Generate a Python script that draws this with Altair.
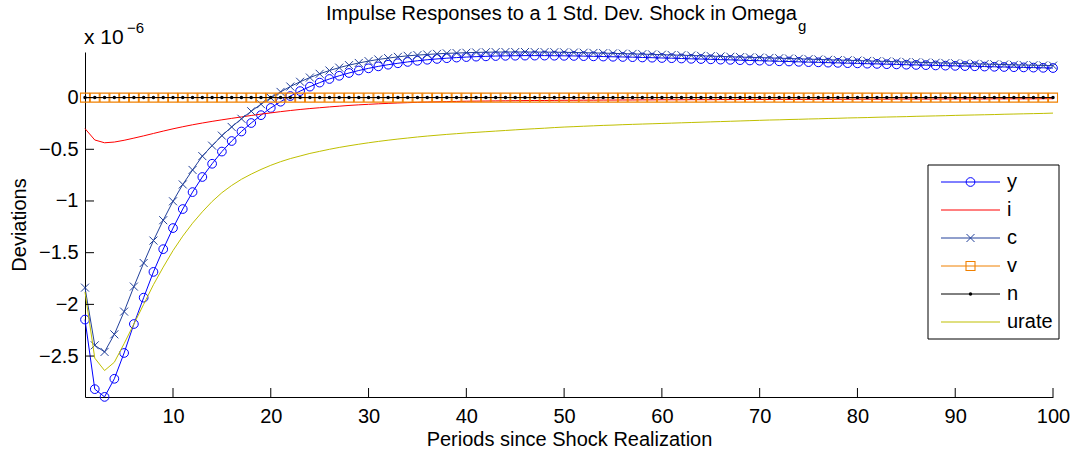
import altair as alt
import pandas as pd

FONT = "Liberation Sans"

periods = list(range(1, 101))

y_vals = [
    -2.147, -2.820, -2.895, -2.720, -2.470, -2.190, -1.935, -1.686, -1.466, -1.262,
    -1.078, -0.914, -0.768, -0.640, -0.522, -0.420, -0.328, -0.246, -0.170, -0.100,
    -0.040, 0.015, 0.063, 0.106, 0.145, 0.180, 0.211, 0.238, 0.262, 0.283,
    0.302, 0.318, 0.332, 0.345, 0.356, 0.366, 0.374, 0.381, 0.387, 0.392,
    0.396, 0.399, 0.402, 0.404, 0.405, 0.406, 0.406, 0.406, 0.405, 0.404,
    0.403, 0.401, 0.399, 0.397, 0.395, 0.393, 0.391, 0.388, 0.386, 0.383,
    0.381, 0.378, 0.375, 0.373, 0.370, 0.367, 0.365, 0.362, 0.359, 0.357,
    0.354, 0.351, 0.349, 0.346, 0.343, 0.341, 0.338, 0.336, 0.333, 0.331,
    0.328, 0.326, 0.323, 0.321, 0.318, 0.316, 0.314, 0.311, 0.309, 0.307,
    0.305, 0.303, 0.300, 0.298, 0.296, 0.294, 0.292, 0.290, 0.288, 0.286,
]

i_vals = [
    -0.300, -0.410, -0.437, -0.430, -0.413, -0.392, -0.370, -0.347, -0.324, -0.302,
    -0.282, -0.263, -0.246, -0.230, -0.215, -0.201, -0.187, -0.173, -0.160, -0.148,
    -0.136, -0.125, -0.115, -0.106, -0.098, -0.090, -0.083, -0.076, -0.070, -0.065,
    -0.060, -0.056, -0.052, -0.049, -0.046, -0.043, -0.041, -0.039, -0.037, -0.035,
    -0.034, -0.033, -0.032, -0.031, -0.030, -0.029, -0.028, -0.028, -0.027, -0.026,
    -0.026, -0.025, -0.025, -0.024, -0.024, -0.023, -0.023, -0.022, -0.022, -0.021,
    -0.021, -0.021, -0.020, -0.020, -0.020, -0.019, -0.019, -0.019, -0.018, -0.018,
    -0.018, -0.017, -0.017, -0.017, -0.017, -0.016, -0.016, -0.016, -0.016, -0.015,
    -0.015, -0.015, -0.015, -0.014, -0.014, -0.014, -0.014, -0.014, -0.013, -0.013,
    -0.013, -0.013, -0.013, -0.012, -0.012, -0.012, -0.012, -0.012, -0.011, -0.011,
]

c_vals = [
    -1.838, -2.396, -2.460, -2.290, -2.070, -1.828, -1.600, -1.383, -1.186, -1.003,
    -0.840, -0.700, -0.566, -0.465, -0.368, -0.284, -0.205, -0.132, -0.064, -0.003,
    0.055, 0.107, 0.153, 0.194, 0.230, 0.262, 0.290, 0.314, 0.335, 0.353,
    0.369, 0.382, 0.394, 0.404, 0.411, 0.417, 0.423, 0.428, 0.431, 0.434,
    0.437, 0.439, 0.440, 0.441, 0.441, 0.441, 0.440, 0.440, 0.439, 0.438,
    0.436, 0.434, 0.432, 0.430, 0.428, 0.425, 0.423, 0.420, 0.418, 0.415,
    0.412, 0.410, 0.407, 0.404, 0.401, 0.398, 0.395, 0.392, 0.389, 0.387,
    0.384, 0.381, 0.378, 0.375, 0.372, 0.369, 0.366, 0.363, 0.361, 0.358,
    0.355, 0.352, 0.350, 0.347, 0.344, 0.342, 0.339, 0.337, 0.334, 0.332,
    0.329, 0.327, 0.324, 0.322, 0.320, 0.317, 0.315, 0.313, 0.311, 0.309,
]

v_vals = [
    0.0, 0.0, 0.0, 0.0, 0.0, 0.0, 0.0, 0.0, 0.0, 0.0,
    0.0, 0.0, 0.0, 0.0, 0.0, 0.0, 0.0, 0.0, 0.0, 0.0,
    0.0, 0.0, 0.0, 0.0, 0.0, 0.0, 0.0, 0.0, 0.0, 0.0,
    0.0, 0.0, 0.0, 0.0, 0.0, 0.0, 0.0, 0.0, 0.0, 0.0,
    0.0, 0.0, 0.0, 0.0, 0.0, 0.0, 0.0, 0.0, 0.0, 0.0,
    0.0, 0.0, 0.0, 0.0, 0.0, 0.0, 0.0, 0.0, 0.0, 0.0,
    0.0, 0.0, 0.0, 0.0, 0.0, 0.0, 0.0, 0.0, 0.0, 0.0,
    0.0, 0.0, 0.0, 0.0, 0.0, 0.0, 0.0, 0.0, 0.0, 0.0,
    0.0, 0.0, 0.0, 0.0, 0.0, 0.0, 0.0, 0.0, 0.0, 0.0,
    0.0, 0.0, 0.0, 0.0, 0.0, 0.0, 0.0, 0.0, 0.0, 0.0,
]

n_vals = [
    0.0, 0.0, 0.0, 0.0, 0.0, 0.0, 0.0, 0.0, 0.0, 0.0,
    0.0, 0.0, 0.0, 0.0, 0.0, 0.0, 0.0, 0.0, 0.0, 0.0,
    0.0, 0.0, 0.0, 0.0, 0.0, 0.0, 0.0, 0.0, 0.0, 0.0,
    0.0, 0.0, 0.0, 0.0, 0.0, 0.0, 0.0, 0.0, 0.0, 0.0,
    0.0, 0.0, 0.0, 0.0, 0.0, 0.0, 0.0, 0.0, 0.0, 0.0,
    0.0, 0.0, 0.0, 0.0, 0.0, 0.0, 0.0, 0.0, 0.0, 0.0,
    0.0, 0.0, 0.0, 0.0, 0.0, 0.0, 0.0, 0.0, 0.0, 0.0,
    0.0, 0.0, 0.0, 0.0, 0.0, 0.0, 0.0, 0.0, 0.0, 0.0,
    0.0, 0.0, 0.0, 0.0, 0.0, 0.0, 0.0, 0.0, 0.0, 0.0,
    0.0, 0.0, 0.0, 0.0, 0.0, 0.0, 0.0, 0.0, 0.0, 0.0,
]

urate_vals = [
    -1.880, -2.520, -2.640, -2.560, -2.380, -2.190, -2.000, -1.810, -1.640, -1.480,
    -1.340, -1.215, -1.105, -1.005, -0.920, -0.850, -0.790, -0.740, -0.695, -0.655,
    -0.620, -0.590, -0.565, -0.540, -0.520, -0.500, -0.482, -0.466, -0.451, -0.437,
    -0.424, -0.412, -0.401, -0.391, -0.381, -0.372, -0.364, -0.356, -0.349, -0.342,
    -0.336, -0.330, -0.324, -0.318, -0.312, -0.306, -0.301, -0.296, -0.290, -0.285,
    -0.281, -0.277, -0.273, -0.269, -0.266, -0.262, -0.259, -0.256, -0.253, -0.250,
    -0.247, -0.244, -0.241, -0.238, -0.235, -0.232, -0.229, -0.226, -0.223, -0.220,
    -0.217, -0.215, -0.212, -0.210, -0.207, -0.205, -0.202, -0.200, -0.197, -0.195,
    -0.193, -0.190, -0.188, -0.186, -0.184, -0.181, -0.179, -0.177, -0.175, -0.172,
    -0.170, -0.168, -0.166, -0.164, -0.161, -0.159, -0.157, -0.155, -0.153, -0.150,
]

series_names = ["y", "i", "c", "v", "n", "urate"]
series_values = [y_vals, i_vals, c_vals, v_vals, n_vals, urate_vals]

x_tick_values = [10, 20, 30, 40, 50, 60, 70, 80, 90, 100]
y_tick_values = [0, -0.5, -1, -1.5, -2, -2.5]

title_main = "Impulse Responses to a 1 Std. Dev. Shock in Omega"
title_sub = "g"
x_title = "Periods since Shock Realization"
y_title = "Deviations"
exp_base = "x 10"
exp_power = "\u22126"

# ---- styles ----
colors = {"y": "#0000FF", "i": "#FF0000", "c": "#22409A", "v": "#F08000",
          "n": "#000000", "urate": "#BFBF00"}
X_PATH = "M-1,-1L1,1M-1,1L1,-1"
markers = {
    "y": dict(shape="circle", size=76, filled=False, strokeWidth=1),
    "c": dict(shape=X_PATH, size=64, filled=False, strokeWidth=1),
    "v": dict(shape="square", size=81, filled=False, strokeWidth=1.1),
    "n": dict(shape="circle", size=12, filled=True, strokeWidth=0),
}

FS = 20
W, H = 968, 345

xscale = alt.Scale(domain=[1, 100], nice=False, zero=False)
yscale = alt.Scale(domain=[-2.896, 0.441], nice=False, zero=False)

xaxis = alt.Axis(values=x_tick_values, ticks=False, grid=False, domainColor="black",
                 domainWidth=1, labelFont=FONT, labelFontSize=FS, labelColor="black",
                 labelPadding=9, labelFlush=False, labelOverlap=False,
                 title=x_title, titleFont=FONT, titleFontSize=FS,
                 titleFontWeight="normal", titleColor="black",
                 titleBaseline="alphabetic", titleY=48)
yaxis = alt.Axis(values=y_tick_values, ticks=False, grid=False, domainColor="black",
                 domainWidth=1, labelFont=FONT, labelFontSize=FS, labelColor="black",
                 labelPadding=7, labelFlush=False, labelOverlap=False, format="~g",
                 title=y_title, titleFont=FONT, titleFontSize=FS,
                 titleFontWeight="normal", titleColor="black",
                 titleBaseline="alphabetic", titleAngle=270, titleX=-60, titleY=H / 2,
                 titleAlign="center")

X = alt.X("t:Q", scale=xscale, axis=xaxis)
Y = alt.Y("v:Q", scale=yscale, axis=yaxis)

layers = []
for name, vals in zip(series_names, series_values):
    df = pd.DataFrame({"t": periods, "v": vals})
    base = alt.Chart(df)
    layers.append(base.mark_line(color=colors[name], strokeWidth=1, clip=False)
                  .encode(x=X, y=Y))
    if name in markers:
        m = markers[name]
        layers.append(base.mark_point(color=colors[name], opacity=1, **m)
                      .encode(x=X, y=Y))

# inward tick marks
xt = pd.DataFrame({"t": x_tick_values})
layers.append(alt.Chart(xt).mark_rule(color="black", strokeWidth=1)
              .encode(x=X, y=alt.value(H), y2=alt.value(H - 9)))
yt = pd.DataFrame({"v": y_tick_values})
layers.append(alt.Chart(yt).mark_rule(color="black", strokeWidth=1)
              .encode(y=Y, x=alt.value(0), x2=alt.value(9)))

# title with subscript
layers.append(alt.Chart(pd.DataFrame({"s": [title_main]}))
              .mark_text(font=FONT, fontSize=20, color="black", align="right",
                         baseline="alphabetic")
              .encode(text="s:N", x=alt.value(712), y=alt.value(-32)))
layers.append(alt.Chart(pd.DataFrame({"s": [title_sub]}))
              .mark_text(font=FONT, fontSize=15, color="black", align="left",
                         baseline="alphabetic")
              .encode(text="s:N", x=alt.value(713), y=alt.value(-21)))

# exponent label
layers.append(alt.Chart(pd.DataFrame({"s": [exp_base]}))
              .mark_text(font=FONT, fontSize=21, color="black", align="left",
                         baseline="alphabetic")
              .encode(text="s:N", x=alt.value(-1), y=alt.value(-8)))
layers.append(alt.Chart(pd.DataFrame({"s": [exp_power]}))
              .mark_text(font=FONT, fontSize=15, color="black", align="left",
                         baseline="alphabetic")
              .encode(text="s:N", x=alt.value(42), y=alt.value(-19)))

# legend
LX0, LX1, LY0, LY1 = 843, 974, 113, 287
layers.append(alt.Chart(pd.DataFrame({"s": ["box"]}))
              .mark_rect(fill="white", stroke="black", strokeWidth=1)
              .encode(x=alt.value(LX0), x2=alt.value(LX1),
                      y=alt.value(LY0), y2=alt.value(LY1)))
for k, name in enumerate(series_names):
    yk = 130 + 28 * k
    ldf = pd.DataFrame({"s": [name]})
    layers.append(alt.Chart(ldf).mark_rule(color=colors[name], strokeWidth=1)
                  .encode(x=alt.value(856), x2=alt.value(915), y=alt.value(yk)))
    if name in markers:
        m = markers[name]
        layers.append(alt.Chart(ldf).mark_point(color=colors[name], opacity=1, **m)
                      .encode(x=alt.value(885.5), y=alt.value(yk)))
    layers.append(alt.Chart(ldf).mark_text(font=FONT, fontSize=FS, color="black",
                                           align="left", baseline="middle")
                  .encode(text="s:N", x=alt.value(922), y=alt.value(yk)))

chart = alt.layer(*layers).properties(
    width=W, height=H,
    autosize=alt.AutoSizeParams(type="none"),
    padding={"left": 85, "top": 52, "right": 24, "bottom": 57},
    background="white",
).configure_view(stroke=None)

chart.save("out.html", embed_options={"renderer": "svg", "actions": False})
